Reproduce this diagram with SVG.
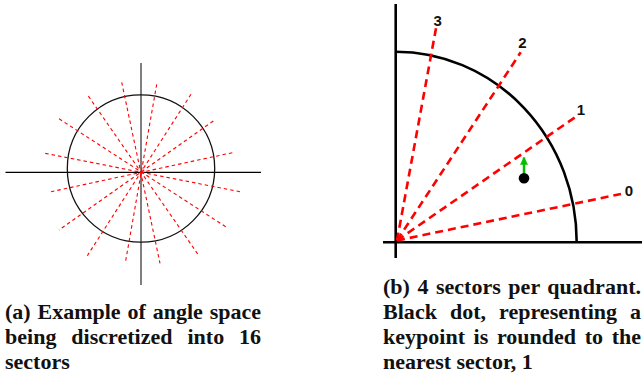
<svg xmlns="http://www.w3.org/2000/svg" width="642" height="379" viewBox="0 0 642 379">
  <defs>
    <style>
      .rayA { stroke: #ff0000; stroke-width: 1.1; stroke-dasharray: 3.5 3; fill: none; }
      .rayB { stroke: #ff0000; stroke-width: 2.6; stroke-dasharray: 8 5; fill: none; }
      .axis { stroke: #000; fill: none; }
      .lbl { font-family: "Liberation Sans", Arial, sans-serif; font-weight: bold; font-size: 15px; fill: #111; text-anchor: middle; }
      .cap { font-family: "Liberation Serif", "Times New Roman", serif; font-weight: bold; font-size: 22px; fill: #111; }
    </style>
    <marker id="arrG" viewBox="0 0 10 10" refX="9" refY="5" markerWidth="8" markerHeight="8" markerUnits="userSpaceOnUse" orient="auto">
      <path d="M0,0 L10,5 L0,10 z" fill="#00c000"/>
    </marker>
  </defs>
  <rect width="642" height="379" fill="#fff"/>

  <!-- Panel (a) -->
  <g id="panel-a">
    <line class="axis" x1="5.5" y1="172.3" x2="261" y2="172.3" stroke-width="1.3"/>
    <line x1="141" y1="63" x2="141" y2="285" stroke="#555" stroke-width="1.5"/>
    <circle cx="141" cy="168.5" r="73.7" fill="none" stroke="#111" stroke-width="1.3"/>
  </g>
  <g id="connectors-a">
    <line class="rayA" x1="121.7" y1="82.3" x2="160" y2="263.3"/>
    <line class="rayA" x1="156.7" y1="84.3" x2="125.7" y2="260.7"/>
    <line class="rayA" x1="191" y1="94.3" x2="87.3" y2="255.7"/>
    <line class="rayA" x1="213.3" y1="121" x2="59" y2="230"/>
    <line class="rayA" x1="232.3" y1="152.7" x2="51" y2="191.7"/>
    <line class="rayA" x1="240" y1="191.7" x2="45" y2="153.3"/>
    <line class="rayA" x1="225.7" y1="226.7" x2="58.3" y2="118.3"/>
    <line class="rayA" x1="197.7" y1="254" x2="88.3" y2="96"/>
  </g>

  <!-- Panel (b) -->
  <g id="panel-b">
    <line class="axis" x1="395.7" y1="4" x2="395.7" y2="258" stroke-width="2.6"/>
    <line class="axis" x1="383" y1="242.3" x2="642" y2="242.3" stroke-width="2.6"/>
    <path d="M395.7,51.7 A181,190.6 0 0 1 576.7,242.3" fill="none" stroke="#000" stroke-width="2.6"/>
  </g>
  <g id="connectors-b">
    <line class="rayB" x1="397" y1="240.5" x2="621" y2="194"/>
    <line class="rayB" x1="397" y1="240.5" x2="575" y2="117.3"/>
    <line class="rayB" x1="397" y1="240.5" x2="520.7" y2="52.3"/>
    <line class="rayB" x1="397" y1="240.5" x2="436" y2="28.3"/>
    <line x1="524" y1="174" x2="524" y2="157.5" stroke="#00c000" stroke-width="2.5" marker-end="url(#arrG)"/>
  </g>
  <g id="keypoint">
    <circle cx="524" cy="178.3" r="5.3" fill="#000"/>
  </g>
  <g id="labels-b">
    <text class="lbl" x="629" y="196.3">0</text>
    <text class="lbl" x="581" y="114.8">1</text>
    <text class="lbl" x="522.3" y="47.8">2</text>
    <text class="lbl" x="437.7" y="26.3">3</text>
  </g>

  <!-- Captions -->
  <g id="caption-a">
    <text class="cap" x="5" y="319" word-spacing="1.4" textLength="256" lengthAdjust="spacing">(a) Example of angle space</text>
    <text class="cap" x="5" y="344" word-spacing="9.3" textLength="256" lengthAdjust="spacing">being discretized into 16</text>
    <text class="cap" x="5" y="369">sectors</text>
  </g>
  <g id="caption-b">
    <text class="cap" x="383" y="294" word-spacing="2" textLength="258" lengthAdjust="spacing">(b) 4 sectors per quadrant.</text>
    <text class="cap" x="383" y="319" word-spacing="7.4" textLength="258" lengthAdjust="spacing">Black dot, representing a</text>
    <text class="cap" x="383" y="344" word-spacing="3.1" textLength="258" lengthAdjust="spacing">keypoint is rounded to the</text>
    <text class="cap" x="383" y="369">nearest sector, 1</text>
  </g>
</svg>
